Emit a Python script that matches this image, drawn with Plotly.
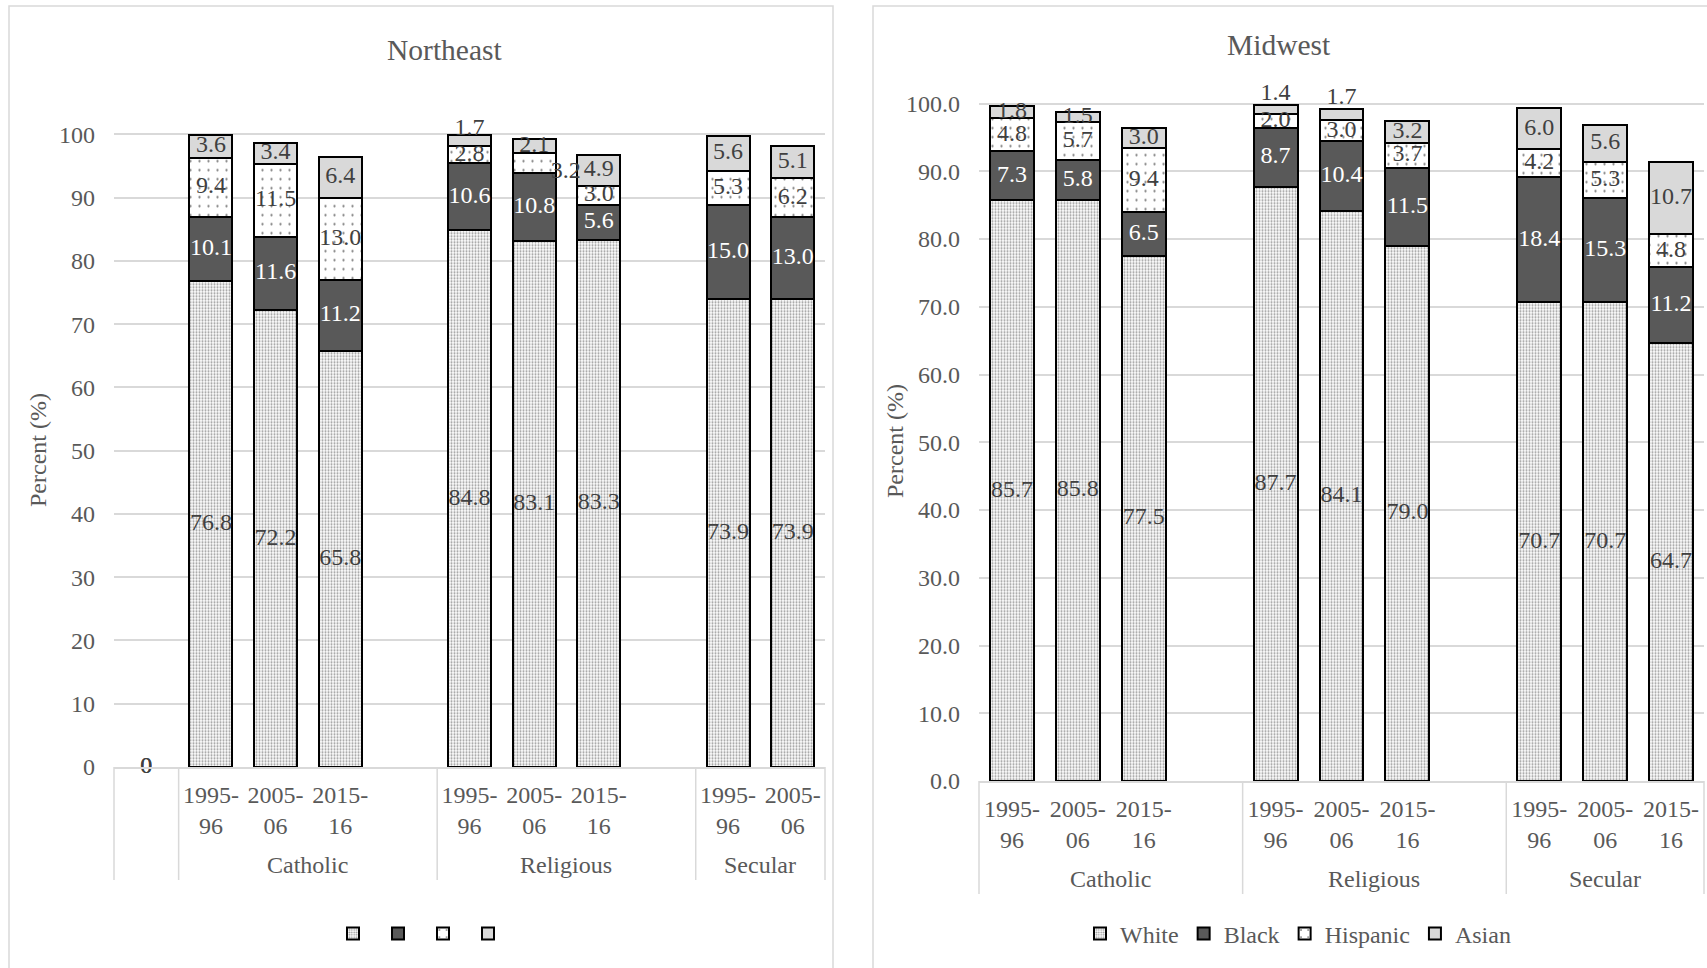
import plotly.graph_objects as go

# ------------------------------------------------------------------ data
series = ["White", "Black", "Hispanic", "Asian"]

# Northeast (first category is an empty placeholder, gaps separate groups)
ne_groups = ["", "Catholic", "Catholic", "Catholic", "Catholic",
             "Religious", "Religious", "Religious", "Religious",
             "Secular", "Secular"]
ne_periods = ["", "1995-96", "2005-06", "2015-16", "",
              "1995-96", "2005-06", "2015-16", "",
              "1995-96", "2005-06"]
ne_white = [0, 76.8, 72.2, 65.8, None, 84.8, 83.1, 83.3, None, 73.9, 73.9]
ne_black = [0, 10.1, 11.6, 11.2, None, 10.6, 10.8, 5.6, None, 15.0, 13.0]
ne_hispanic = [0, 9.4, 11.5, 13.0, None, 2.8, 3.2, 3.0, None, 5.3, 6.2]
ne_asian = [0, 3.6, 3.4, 6.4, None, 1.7, 2.1, 4.9, None, 5.6, 5.1]

# Midwest
mw_groups = ["Catholic", "Catholic", "Catholic", "Catholic",
             "Religious", "Religious", "Religious", "Religious",
             "Secular", "Secular", "Secular"]
mw_periods = ["1995-96", "2005-06", "2015-16", "",
              "1995-96", "2005-06", "2015-16", "",
              "1995-96", "2005-06", "2015-16"]
mw_white = [85.7, 85.8, 77.5, None, 87.7, 84.1, 79.0, None, 70.7, 70.7, 64.7]
mw_black = [7.3, 5.8, 6.5, None, 8.7, 10.4, 11.5, None, 18.4, 15.3, 11.2]
mw_hispanic = [4.8, 5.7, 9.4, None, 2.0, 3.0, 3.7, None, 4.2, 5.3, 4.8]
mw_asian = [1.8, 1.5, 3.0, None, 1.4, 1.7, 3.2, None, 6.0, 5.6, 10.7]

# ------------------------------------------------------------------ styles
W, H = 1707, 968
FONT = "Liberation Serif"
TXT = "#595959"
GRID = "#d9d9d9"
Y_MAX = 100
Y_HEADROOM = 1.05  # extra plot room above 100 for labels placed above bars


def px(x):
    return x / W


def py(y):
    return 1 - y / H


bar_styles = {
    "White": dict(color="white",
                  pattern=dict(shape=".", fgcolor="#303030", bgcolor="white",
                               size=3, solidity=0.4)),
    "Black": dict(color="#595959"),
    "Hispanic": dict(color="white",
                     pattern=dict(shape=".", fgcolor="#000000", bgcolor="white",
                                  size=9, solidity=0.05)),
    "Asian": dict(color="#d9d9d9"),
}
label_colors = {"White": "#404040", "Black": "#ffffff",
                "Hispanic": "#404040", "Asian": "#404040"}

# label placement exceptions (chart, series, category index) -> (mode, offset)
label_place = {
    ("ne", "Asian", 5): ("above", 0.9),
    ("ne", "Hispanic", 6): ("right", 1.5),
    ("mw", "Asian", 4): ("above", 1.6),
    ("mw", "Asian", 5): ("above", 1.6),
}

charts = [
    dict(key="ne", title="Northeast", groups=ne_groups, periods=ne_periods,
         values=[ne_white, ne_black, ne_hispanic, ne_asian],
         xa="x", ya="y", legend="legend2", names_shown=False,
         x_px=(114, 825), y_px=(767, 134.3), title_pos=(444, 50),
         ytitle_pos=(38, 450), ytickformat="d"),
    dict(key="mw", title="Midwest", groups=mw_groups, periods=mw_periods,
         values=[mw_white, mw_black, mw_hispanic, mw_asian],
         xa="x2", ya="y2", legend="legend", names_shown=True,
         x_px=(979, 1704), y_px=(781, 103.5), title_pos=(1279, 45),
         ytitle_pos=(895, 441), ytickformat=".1f"),
]

fig = go.Figure()
annotations = []
shapes = []


def group_spans(groups):
    spans = []
    start = 0
    for i in range(1, len(groups) + 1):
        if i == len(groups) or groups[i] != groups[start]:
            spans.append((groups[start], start, i - 1))
            start = i
    return spans


label_traces = []
for ch in charts:
    n = len(ch["periods"])
    xs = list(range(n))
    cum = [0.0] * n
    for s, vals in zip(series, ch["values"]):
        bar_y = [v if (v is not None and v > 0) else None for v in vals]
        fig.add_trace(go.Bar(
            x=xs, y=bar_y, name=s if ch["names_shown"] else "",
            xaxis=ch["xa"], yaxis=ch["ya"], legend=ch["legend"],
            marker=dict(line=dict(color="#000000", width=2), **bar_styles[s]),
            hoverinfo="skip",
        ))
        lx, ly, lt = [], [], []
        for i, v in enumerate(vals):
            if v is None:
                continue
            mode, off = label_place.get((ch["key"], s, i), ("center", 0))
            mid = cum[i] + v / 2
            top = cum[i] + v
            if mode == "above":
                lx.append(i)
                ly.append(top + off)
            elif mode == "right":
                lx.append(i + 0.49)
                ly.append(mid - off)
            else:
                lx.append(i)
                ly.append(mid)
            lt.append("0" if v == 0 else f"{v:.1f}")
        for i, v in enumerate(vals):
            if v is not None:
                cum[i] += v
        label_traces.append(go.Scatter(
            x=lx, y=ly, text=lt, mode="text", textposition="middle center",
            textfont=dict(family=FONT, size=24, color=label_colors[s]),
            xaxis=ch["xa"], yaxis=ch["ya"], showlegend=False,
            cliponaxis=False, hoverinfo="skip",
        ))

    axis_px = ch["y_px"][0]
    # group labels and dividers
    bounds = set()
    for g, a, b in group_spans(ch["groups"]):
        bounds.add(a - 0.5)
        bounds.add(b + 0.5)
        if g:
            annotations.append(dict(
                x=(a + b) / 2, xref=ch["xa"], y=py(axis_px + 98), yref="paper",
                text=g, showarrow=False, yanchor="middle",
                font=dict(family=FONT, size=24, color=TXT)))
    for bnd in sorted(bounds):
        shapes.append(dict(
            type="line", xref=ch["xa"] + " domain", yref="paper",
            x0=(bnd + 0.5) / n, x1=(bnd + 0.5) / n,
            y0=py(axis_px), y1=py(axis_px + 113),
            line=dict(color=GRID, width=1.5)))
    # titles
    annotations.append(dict(
        x=px(ch["title_pos"][0]), y=py(ch["title_pos"][1]), xref="paper",
        yref="paper", text=ch["title"], showarrow=False, xanchor="center",
        yanchor="middle", font=dict(family=FONT, size=29.5, color=TXT)))
    annotations.append(dict(
        x=px(ch["ytitle_pos"][0]), y=py(ch["ytitle_pos"][1]), xref="paper",
        yref="paper", text="Percent (%)", showarrow=False, textangle=-90,
        xanchor="center", yanchor="middle",
        font=dict(family=FONT, size=24, color=TXT)))

for t in label_traces:
    fig.add_trace(t)

# panel borders
shapes.append(dict(type="rect", xref="paper", yref="paper",
                   x0=px(9), x1=px(833), y0=py(1000), y1=py(6),
                   line=dict(color=GRID, width=1.5), layer="below"))
shapes.append(dict(type="rect", xref="paper", yref="paper",
                   x0=px(873), x1=px(1740), y0=py(1000), y1=py(6),
                   line=dict(color=GRID, width=1.5), layer="below"))


def xaxis_cfg(ch):
    return dict(
        domain=[px(ch["x_px"][0]), px(ch["x_px"][1])],
        range=[-0.5, len(ch["periods"]) - 0.5],
        tickmode="array", tickvals=list(range(len(ch["periods"]))),
        ticktext=[p.replace("-", "-<br>") for p in ch["periods"]],
        showgrid=False, zeroline=False, showline=True, linecolor=GRID,
        linewidth=1.5, ticks="", ticklabelstandoff=5,
        tickfont=dict(family=FONT, size=24, color=TXT), anchor=ch["ya"],
        fixedrange=True, automargin=False,
    )


def yaxis_cfg(ch):
    y0, y100 = ch["y_px"]
    top_px = y0 - (y0 - y100) * Y_HEADROOM
    return dict(
        domain=[py(y0), py(top_px)],
        range=[0, Y_MAX * Y_HEADROOM], tickmode="array",
        tickvals=list(range(0, Y_MAX + 1, 10)), tickformat=ch["ytickformat"],
        showgrid=True, gridcolor=GRID, gridwidth=1.5, zeroline=False,
        showline=False, ticks="", ticklabelstandoff=18,
        tickfont=dict(family=FONT, size=24, color=TXT), anchor=ch["xa"],
        fixedrange=True, automargin=False,
    )


legend_common = dict(orientation="h", xanchor="center", yanchor="middle",
                     traceorder="normal", bgcolor="rgba(0,0,0,0)",
                     font=dict(family=FONT, size=24, color=TXT))

fig.update_layout(
    width=W, height=H,
    margin=dict(l=0, r=0, t=0, b=0, pad=0, autoexpand=False),
    paper_bgcolor="white", plot_bgcolor="white",
    barmode="stack", bargap=0.335,
    font=dict(family=FONT, color=TXT),
    xaxis=xaxis_cfg(charts[0]), yaxis=yaxis_cfg(charts[0]),
    xaxis2=xaxis_cfg(charts[1]), yaxis2=yaxis_cfg(charts[1]),
    legend=dict(x=px(1298), y=py(934), **legend_common),
    legend2=dict(x=px(423), y=py(934), **legend_common),
    annotations=annotations, shapes=shapes,
)

fig.write_html(
    "out.html",
    config=dict(displayModeBar=False),
    post_script="document.body.style.margin='0';document.body.style.overflow='hidden';",
)
